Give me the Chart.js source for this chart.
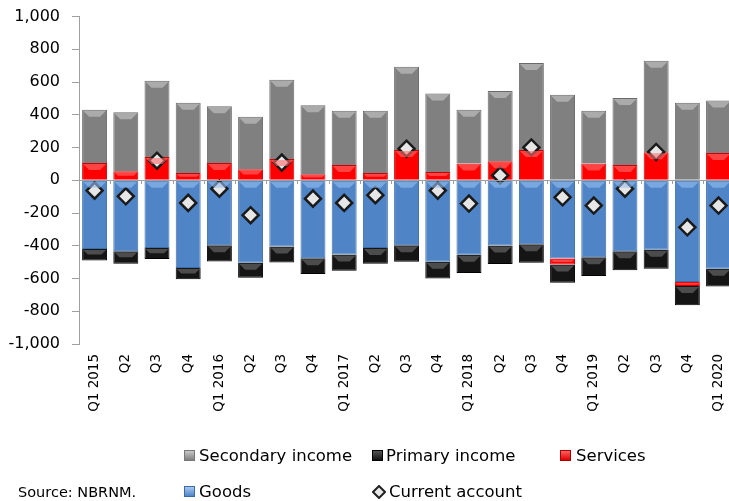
<!DOCTYPE html>
<html>
<head>
<meta charset="utf-8">
<script src="https://cdn.jsdelivr.net/npm/chart.js@4"></script>
<style>
  html, body { margin: 0; padding: 0; background: #fff; overflow: hidden; width: 729px; height: 501px; }
  #wrap { position: relative; width: 729px; height: 501px; overflow: hidden; }
  canvas { position: absolute; left: 0; top: -5px; }
  .lg { position: absolute; font-family: "DejaVu Sans", Verdana, sans-serif; font-size: 16.5px; color: #000; white-space: nowrap; line-height: 20px; }
  .mk { position: absolute; width: 11px; height: 11px; }
</style>
</head>
<body>
<div id="wrap">
  <canvas id="c" width="745" height="506" style="width:745px;height:506px"></canvas>
  <div class="mk" style="left:184px;top:450px;background:linear-gradient(#c8c8c8,#808080);border:1px solid #777;box-sizing:border-box"></div>
  <div class="lg" style="left:199px;top:446px">Secondary income</div>
  <div class="mk" style="left:372px;top:450px;background:linear-gradient(#555,#111);border:1px solid #000;box-sizing:border-box"></div>
  <div class="lg" style="left:386px;top:446px">Primary income</div>
  <div class="mk" style="left:560px;top:450px;background:linear-gradient(#ff6060,#e00000);border:1px solid #a00;box-sizing:border-box"></div>
  <div class="lg" style="left:576px;top:446px">Services</div>
  <div class="lg" style="left:18px;top:482px;font-size:14.5px">Source: NBRNM.</div>
  <div class="mk" style="left:184px;top:486px;background:linear-gradient(#a8c8f0,#4f85c6);border:1px solid #3a6aa8;box-sizing:border-box"></div>
  <div class="lg" style="left:199px;top:482px">Goods</div>
  <svg style="position:absolute;left:372px;top:485px" width="14" height="14"><polygon points="7,1 13,7 7,13 1,7" fill="#e8e8e8" stroke="#222" stroke-width="2"/></svg>
  <div class="lg" style="left:389px;top:482px">Current account</div>
</div>
<script>
const categories = ["Q1 2015","Q2","Q3","Q4","Q1 2016","Q2","Q3","Q4","Q1 2017","Q2","Q3","Q4","Q1 2018","Q2","Q3","Q4","Q1 2019","Q2","Q3","Q4","Q1 2020"];
const goods          = [-419,-433,-413,-535,-396,-504,-404,-476,-453,-414,-396,-498,-455,-398,-390,-478,-470,-433,-425,-622,-541];
const services       = [105,55,142,45,105,67,130,37,93,44,185,51,102,116,185,-36,102,93,171,-24,167];
const primaryIncome  = [-71,-77,-67,-70,-100,-92,-98,-97,-100,-96,-102,-102,-112,-114,-114,-112,-115,-116,-116,-118,-107];
const secondaryIncome= [326,361,466,429,348,321,484,422,332,381,508,479,329,429,531,522,323,409,559,474,321];
const currentAccount = [-63,-98,120,-138,-51,-213,108,-112,-138,-91,193,-63,-142,30,201,-104,-154,-51,173,-287,-154];
const yTicks = [-1000,-800,-600,-400,-200,0,200,400,600,800,1000];

const zeroTicks = {
  id: 'zeroTicks',
  afterDatasetsDraw(chart) {
    const x = chart.scales.x, y = chart.scales.y;
    const y0 = y.getPixelForValue(0);
    const ctx = chart.ctx;
    ctx.save();
    ctx.strokeStyle = '#a0a0a0';
    ctx.lineWidth = 1;
    ctx.beginPath();
    ctx.moveTo(chart.chartArea.left, Math.round(y0) + 0.5);
    ctx.lineTo(chart.chartArea.right, Math.round(y0) + 0.5);
    for (let i = 1; i < categories.length; i++) {
      const px = Math.round((x.getPixelForValue(i - 1) + x.getPixelForValue(i)) / 2) + 0.5;
      ctx.moveTo(px, Math.round(y0));
      ctx.lineTo(px, Math.round(y0) + 4);
    }
    ctx.stroke();
    ctx.restore();
  }
};

const bevel = {
  id: 'bevel',
  afterDatasetsDraw(chart) {
    const ctx = chart.ctx;
    chart.data.datasets.forEach((ds, di) => {
      if (ds.type === 'line') return;
      const meta = chart.getDatasetMeta(di);
      meta.data.forEach(el => {
        const top = Math.min(el.y, el.base), bot = Math.max(el.y, el.base);
        const h = bot - top;
        if (h < 3) return;
        const l = el.x - el.width / 2, r = el.x + el.width / 2;
        const cap = Math.min(6, h / 2.5);
        ctx.save();
        ctx.fillStyle = ds.hiColor;
        ctx.beginPath();
        ctx.moveTo(l + 1, top + 1);
        ctx.lineTo(r - 1, top + 1);
        ctx.lineTo(r - 1 - cap, top + 1 + cap);
        ctx.lineTo(l + 1 + cap, top + 1 + cap);
        ctx.closePath();
        ctx.fill();
        ctx.restore();
      });
    });
  }
};

new Chart(document.getElementById('c'), {
  data: {
    labels: categories,
    datasets: [
      { type: 'line', label: 'Current account', data: currentAccount, showLine: false,
        pointStyle: 'rectRot', pointRadius: 8, pointBackgroundColor: '#e6e6e6',
        pointBorderColor: '#1a1a1a', pointBorderWidth: 2.5, order: 0 },
      { type: 'bar', label: 'Goods', data: goods, backgroundColor: '#4f85c6', borderColor: '#3d6eaa', borderWidth: 1, hiColor: 'rgba(150,190,240,0.6)', stack: 's', order: 1 },
      { type: 'bar', label: 'Services', data: services, backgroundColor: '#ff0000', borderColor: '#c80000', borderWidth: 1, hiColor: 'rgba(255,110,110,0.6)', stack: 's', order: 1 },
      { type: 'bar', label: 'Primary income', data: primaryIncome, backgroundColor: '#151515', borderColor: '#000', borderWidth: 1, hiColor: 'rgba(100,100,100,0.7)', stack: 's', order: 1 },
      { type: 'bar', label: 'Secondary income', data: secondaryIncome, backgroundColor: '#808080', borderColor: '#6a6a6a', borderWidth: 1, hiColor: 'rgba(190,190,190,0.7)', stack: 's', order: 1 }
    ]
  },
  options: {
    responsive: false,
    animation: false,
    layout: { padding: { top: 10, right: 10, left: 0, bottom: 0 } },
    datasets: { bar: { barPercentage: 0.8, categoryPercentage: 1 } },
    plugins: { legend: { display: false }, tooltip: { enabled: false }, title: { display: false } },
    scales: {
      x: {
        stacked: true,
        grid: { display: false, drawTicks: false },
        border: { display: false },
        ticks: { maxRotation: 90, minRotation: 90, autoSkip: false, padding: 10,
          color: '#000', font: { family: 'DejaVu Sans', size: 13.5 } },
        afterFit(s) { s.height = 157; }
      },
      y: {
        stacked: true,
        min: -1000, max: 1000,
        afterBuildTicks(s) { s.ticks = yTicks.map(v => ({ value: v })); },
        grid: { drawOnChartArea: false, tickLength: 7, color: '#a0a0a0' },
        border: { display: true, color: '#a0a0a0' },
        ticks: { padding: 12, color: '#000', font: { family: 'DejaVu Sans', size: 16 },
          callback: v => v.toLocaleString('en-US') },
        afterFit(s) { s.width = 79; }
      }
    }
  },
  plugins: [zeroTicks, bevel]
});
</script>
</body>
</html>
